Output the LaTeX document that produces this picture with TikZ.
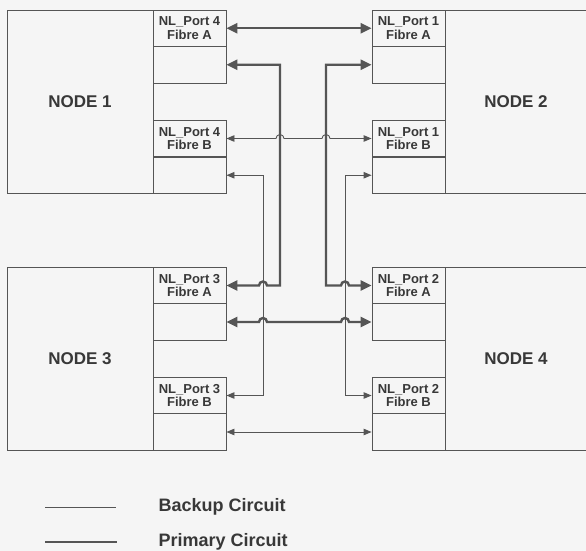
\documentclass[tikz,border=0pt]{standalone}
\usepackage{fontspec}
\setmainfont{Liberation Sans}
\usetikzlibrary{arrows.meta}

\definecolor{linegray}{HTML}{555555}
\definecolor{textgray}{HTML}{383838}

\begin{document}
\begin{tikzpicture}[x=1pt, y=-1pt,
  nodebox/.style={draw=linegray, line width=0.9pt, minimum width=146pt, minimum height=183pt, inner sep=0pt,
    font=\fontsize{17}{18}\selectfont\bfseries, text=textgray},
  portbox/.style={draw=linegray, line width=0.9pt, minimum width=73pt, minimum height=36.5pt, inner sep=0pt,
    align=center, font=\fontsize{13}{13.5}\selectfont\bfseries, text=textgray},
  primary/.style={draw=linegray, line width=2.4pt, {Triangle[length=11pt,width=10pt]}-{Triangle[length=11pt,width=10pt]}},
  backup/.style={draw=linegray, line width=0.9pt, {Triangle[length=8pt,width=6.5pt]}-{Triangle[length=8pt,width=6.5pt]}},
  legendtext/.style={anchor=west, font=\fontsize{18}{19}\selectfont\bfseries, text=textgray}]

  \useasboundingbox[fill=black!4] (0,0) rectangle (586,551);

  % Nodes
  \node[nodebox] (n1) at (80,101.5) {NODE 1};
  \node[nodebox, minimum width=142pt] (n2) at (516,101.5) {NODE 2};
  \node[nodebox] (n3) at (80,358.5) {NODE 3};
  \node[nodebox, minimum width=142pt] (n4) at (516,358.5) {NODE 4};

  % Ports of node 1 and node 3
  \node[portbox] (n1pa) at (189.5,28.25) {NL\_Port 4\\Fibre A};
  \node[portbox] (n1pal) at (189.5,64.75) {};
  \node[portbox] (n1pb) at (189.5,138.5) {NL\_Port 4\\Fibre B};
  \node[portbox] (n1pbl) at (189.5,175.25) {};
  \node[portbox] (n3pa) at (189.5,285.5) {NL\_Port 3\\Fibre A};
  \node[portbox] (n3pal) at (189.5,322) {};
  \node[portbox] (n3pb) at (189.5,395.5) {NL\_Port 3\\Fibre B};
  \node[portbox] (n3pbl) at (189.5,432) {};

  % Ports of node 2 and node 4
  \node[portbox] (n2pa) at (408.5,28.25) {NL\_Port 1\\Fibre A};
  \node[portbox] (n2pal) at (408.5,64.75) {};
  \node[portbox] (n2pb) at (408.5,138.5) {NL\_Port 1\\Fibre B};
  \node[portbox] (n2pbl) at (408.5,175.25) {};
  \node[portbox] (n4pa) at (408.5,285.5) {NL\_Port 2\\Fibre A};
  \node[portbox] (n4pal) at (408.5,322) {};
  \node[portbox] (n4pb) at (408.5,395.5) {NL\_Port 2\\Fibre B};
  \node[portbox] (n4pbl) at (408.5,432) {};

  % Primary circuits
  \draw[primary] (n1pa.east) -- (n2pa.west);
  \draw[primary] (n1pal.east) -- (280,64.75) -- (280,285.5) -- (267,285.5)
    arc[start angle=0, end angle=-180, radius=4] -- (n3pa.east);
  \draw[primary] (n2pal.west) -- (326,64.75) -- (326,285.5) -- (341,285.5)
    arc[start angle=180, end angle=360, radius=4] -- (n4pa.west);
  \draw[primary] (n3pal.east) -- (259,322) arc[start angle=180, end angle=360, radius=4]
    -- (341,322) arc[start angle=180, end angle=360, radius=4] -- (n4pal.west);

  % Backup circuits
  \draw[backup] (n1pb.east) -- (276,138.5) arc[start angle=180, end angle=360, radius=4]
    -- (322,138.5) arc[start angle=180, end angle=360, radius=4] -- (n2pb.west);
  \draw[backup] (n1pbl.east) -- (263,175.25) -- (263,395.5) -- (n3pb.east);
  \draw[backup] (n2pbl.west) -- (345,175.25) -- (345,395.5) -- (n4pb.west);
  \draw[backup] (n3pbl.east) -- (n4pbl.west);

  % Legend
  \coordinate (bk1) at (45,507);
  \coordinate (bk2) at (116,507);
  \coordinate (pr1) at (45,542);
  \coordinate (pr2) at (117,542);
  \draw[linegray, line width=0.9pt] (bk1) -- (bk2);
  \draw[linegray, line width=2.4pt] (pr1) -- (pr2);
  \node[legendtext] (bklabel) at (155,507) {Backup Circuit};
  \node[legendtext] (prlabel) at (155,542) {Primary Circuit};
\end{tikzpicture}
\end{document}
